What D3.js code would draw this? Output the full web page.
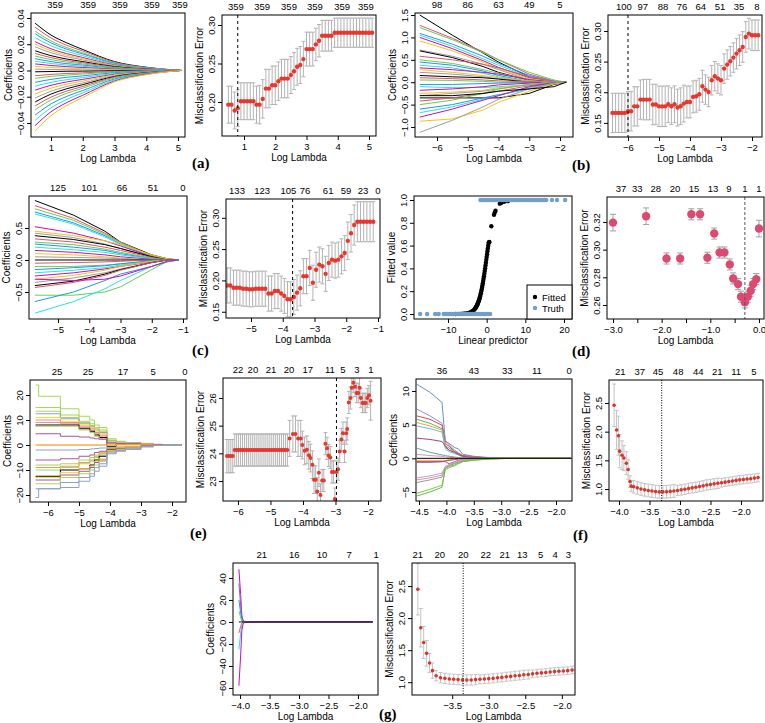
<!DOCTYPE html>
<html><head><meta charset="utf-8">
<script src="https://cdn.jsdelivr.net/npm/d3@7"></script>
<style>body{margin:0;background:#fff}</style>
</head><body><script>
// ---------------- DATA ----------------
// (a) coefficient paths
const coefA_lambda = [0.5,1,1.5,2,3,4,5.1];
const coefA_paths = [
[.036,.027,.021,.016,.0068,.0025,0],[.033,.0248,.0191,.0149,.0063,.0023,0],[.030,.0225,.0174,.0135,.0057,.0021,0],
[.028,.021,.0162,.0126,.0053,.002,0],[.025,.0188,.0145,.0113,.0048,.0018,0],[.022,.0165,.0128,.0099,.0042,.0015,0],
[.020,.015,.0116,.009,.0038,.0014,0],[.018,.0135,.0104,.0081,.0034,.0013,0],[.015,.0113,.0087,.0068,.0029,.0011,0],
[.013,.0098,.0075,.0059,.0025,.0009,0],[.011,.0083,.0064,.005,.0021,.0008,0],[.009,.0068,.0052,.0041,.0017,.0006,0],
[.007,.0053,.0041,.0032,.0013,.0005,0],[.005,.0038,.0029,.0023,.001,.0004,0],[.003,.0023,.0017,.0014,.0006,.0002,0],
[.001,.0008,.0006,.0005,.0002,.0001,0],[-.001,-.0008,-.0006,-.0005,-.0002,-.0001,0],[-.004,-.003,-.0023,-.0018,-.0008,-.0003,0],
[-.006,-.0045,-.0035,-.0027,-.0011,-.0004,0],[-.009,-.0068,-.0052,-.0041,-.0017,-.0006,0],[-.012,-.009,-.007,-.0054,-.0023,-.0008,0],
[-.015,-.0113,-.0087,-.0068,-.0029,-.0011,0],[-.018,-.0135,-.0104,-.0081,-.0034,-.0013,0],[-.021,-.0158,-.0122,-.0095,-.004,-.0015,0],
[-.024,-.018,-.0139,-.0108,-.0046,-.0017,0],[-.027,-.0203,-.0157,-.0122,-.0051,-.0019,0],[-.030,-.0225,-.0174,-.0135,-.0057,-.0021,0],
[-.034,-.0255,-.0197,-.0153,-.0065,-.0024,0],[-.038,-.0285,-.022,-.0171,-.0072,-.0027,0],[-.042,-.0315,-.0244,-.0189,-.008,-.0029,0],
[-.046,-.0345,-.0267,-.0207,-.0087,-.0032,0]];
const cvA_lambda = [0.5,0.6,0.7,0.8,0.9,1.0,1.1,1.2,1.3,1.4,1.5,1.6,1.7,1.8,1.9,2.0,2.1,2.2,2.3,2.4,2.5,2.6,2.7,2.8,2.9,3.0,3.1,3.2,3.3,3.4,3.5,3.6,3.7,3.8,3.9,4.0,4.1,4.2,4.3,4.4,4.5,4.6,4.7,4.8,4.9,5.0,5.1];
const cvA_err = [.1965,.1965,.189,.192,.201,.201,.201,.201,.201,.1965,.1965,.204,.2174,.2174,.2217,.2217,.227,.2304,.2304,.2304,.235,.24,.2457,.248,.2557,.2687,.2687,.2687,.2748,.2796,.2861,.2861,.2861,.2861,.29,.29,.29,.29,.29,.29,.29,.29,.29,.29,.29,.29,.29];
const cvA_sd = [.024,.024,.024,.024,.024,.024,.024,.024,.024,.024,.025,.025,.025,.025,.025,.025,.025,.025,.025,.025,.024,.024,.024,.024,.023,.022,.022,.022,.021,.021,.02,.02,.02,.02,.019,.019,.019,.019,.019,.019,.019,.019,.019,.019,.019,.019,.019];
const topA1_at = [1.13,2.17,3.17,4.18,5.06], topA1_lab = ["359","359","359","359","359"];
const topA2_at = [0.74,1.58,2.44,3.27,4.14,4.9], topA2_lab = ["359","359","359","359","359","359"];
const cvA_min = 0.8;

// (b)
const coefB_lambda = [-6.56,-5.5,-4.5,-4.0,-3.0,-2.2,-1.8];
const coefB_paths = [
[1.50,1.05,0.65,0.45,0.12,0.02,0],[1.27,0.98,0.68,0.50,0.18,0.03,0],[1.22,0.95,0.66,0.50,0.22,0.05,0],[1.09,0.85,0.58,0.42,0.15,0.02,0],
[1.05,0.80,0.52,0.38,0.12,0.02,0],[1.00,0.75,0.48,0.33,0.10,0.01,0],[0.92,0.70,0.45,0.30,0.08,0.01,0],[0.72,0.58,0.40,0.28,0.05,0,0],
[0.70,0.55,0.35,0.22,0.04,0,0],[0.58,0.50,0.40,0.32,0.12,0.02,0],[0.50,0.42,0.28,0.2,0.05,0,0],[0.45,0.38,0.25,0.15,0.02,0,0],
[0.38,0.32,0.2,0.12,0.03,0,0],[0.32,0.28,0.22,0.18,0.06,0,0],[0.28,0.22,0.15,0.1,0.03,0,0],[0.22,0.18,0.12,0.08,0.02,0,0],
[0.15,0.12,0.1,0.07,0.0,-0.02,0],[0.1,0.08,0.05,0.03,0.01,0,0],[0.05,0.04,0.02,0.0,0.0,0.0,0],[-0.05,-0.05,-0.03,-0.02,-0.01,0,0],
[-0.1,-0.12,-0.12,-0.1,-0.06,-0.02,0],[-0.18,-0.15,-0.1,-0.06,-0.02,0,0],[-0.25,-0.22,-0.18,-0.12,-0.05,0,0],[-0.3,-0.25,-0.2,-0.15,-0.05,0,0],
[-0.35,-0.35,-0.35,-0.35,-0.25,-0.05,0],[-0.42,-0.35,-0.25,-0.2,-0.08,-0.01,0],[-0.5,-0.4,-0.25,-0.15,-0.05,0,0],[-0.6,-0.5,-0.35,-0.28,-0.15,-0.03,0],
[-0.68,-0.55,-0.38,-0.3,-0.12,-0.02,0],[-0.78,-0.6,-0.4,-0.3,-0.1,-0.01,0],[-0.87,-0.82,-0.62,-0.45,-0.2,-0.04,0],[-1.12,-0.85,-0.55,-0.38,-0.15,-0.02,0],
[-0.3,-0.3,-0.25,-0.2,-0.15,-0.1,0]];
const cvB_lambda = [-6.5,-6.4,-6.3,-6.2,-6.1,-6.0,-5.9,-5.8,-5.7,-5.6,-5.5,-5.4,-5.3,-5.2,-5.1,-5.0,-4.9,-4.8,-4.7,-4.6,-4.5,-4.4,-4.3,-4.2,-4.1,-4.0,-3.9,-3.8,-3.7,-3.6,-3.5,-3.4,-3.3,-3.2,-3.1,-3.0,-2.9,-2.8,-2.7,-2.6,-2.5,-2.4,-2.3,-2.2,-2.1,-2.0,-1.9,-1.8];
const cvB_err = [.1663,.1663,.1663,.1663,.1663,.169,.169,.177,.177,.188,.188,.188,.188,.180,.180,.177,.177,.177,.1804,.1772,.1804,.175,.1772,.1815,.1842,.1842,.1924,.1935,.1967,.2098,.2043,.2005,.2196,.2261,.2223,.2196,.2386,.2451,.2505,.2565,.263,.2685,.2739,.2902,.2957,.2929,.2929,.2929];
const cvB_sd = [.032,.032,.032,.032,.032,.032,.032,.032,.032,.032,.033,.033,.033,.033,.033,.033,.033,.033,.03,.03,.03,.03,.03,.03,.026,.026,.026,.026,.026,.026,.024,.024,.024,.024,.024,.024,.024,.024,.024,.024,.025,.025,.025,.025,.025,.025,.025,.025];
const topB1_at = [-6,-5,-4,-3,-2], topB1_lab = ["98","86","63","49","5"];
const topB2_at = [-6.13,-5.52,-4.87,-4.26,-3.65,-3.03,-2.42,-1.84], topB2_lab = ["100","97","88","76","64","51","35","8"];
const cvB_min = -6.0;

// (c)
const coefC_lambda = [-5.74,-4.5,-3.5,-3.0,-2.0,-1.5,-1.15];
const coefC_paths = [
[0.93,0.70,0.45,0.28,0.08,0.02,0],[0.85,0.65,0.42,0.28,0.07,0.01,0],[0.80,0.62,0.40,0.27,0.06,0.01,0],[0.75,0.58,0.38,0.25,0.05,0.01,0],
[0.72,0.56,0.36,0.24,0.05,0.0,0],[0.52,0.42,0.30,0.22,0.05,0.0,0],[0.45,0.38,0.30,0.24,0.08,0.02,0],[0.42,0.35,0.25,0.18,0.04,0,0],
[0.38,0.32,0.24,0.18,0.05,0,0],[0.33,0.28,0.20,0.15,0.04,0,0],[0.28,0.24,0.17,0.12,0.03,0,0],[0.25,0.20,0.15,0.1,0.02,0,0],
[0.2,0.16,0.12,0.08,0.02,0,0],[0.15,0.12,0.08,0.05,0.01,0,0],[0.1,0.08,0.05,0.03,0,0,0],[0.05,0.04,0.03,0.02,0,0,0],
[0,0,0,0,0,0,0],[-0.05,-0.04,-0.03,-0.02,0,0,0],[-0.1,-0.1,-0.08,-0.06,-0.02,0,0],[-0.15,-0.12,-0.09,-0.06,-0.01,0,0],
[-0.2,-0.16,-0.12,-0.08,-0.02,0,0],[-0.25,-0.2,-0.14,-0.1,-0.03,0,0],[-0.3,-0.24,-0.16,-0.1,-0.02,0,0],[-0.35,-0.28,-0.2,-0.14,-0.04,0,0],
[-0.4,-0.33,-0.22,-0.15,-0.04,0,0],[-0.43,-0.35,-0.24,-0.16,-0.04,0,0],[-0.55,-0.55,-0.5,-0.42,-0.15,-0.02,0],[-0.65,-0.5,-0.32,-0.22,-0.1,-0.03,0],
[-0.83,-0.65,-0.45,-0.32,-0.1,-0.02,0],[-0.3,-0.32,-0.3,-0.25,-0.1,-0.02,0]];
const cvC_lambda = [-5.75,-5.65,-5.55,-5.45,-5.35,-5.25,-5.15,-5.05,-4.95,-4.85,-4.75,-4.65,-4.55,-4.45,-4.35,-4.25,-4.15,-4.05,-3.95,-3.85,-3.75,-3.65,-3.55,-3.45,-3.35,-3.25,-3.15,-3.05,-2.95,-2.85,-2.75,-2.65,-2.55,-2.45,-2.35,-2.25,-2.15,-2.05,-1.95,-1.85,-1.75,-1.65,-1.55,-1.45,-1.35,-1.25,-1.15];
const cvC_err = [.192,.192,.1884,.1884,.1884,.1868,.1868,.1858,.1858,.1868,.1868,.1868,.1868,.179,.179,.183,.183,.179,.1753,.170,.170,.1735,.1805,.1874,.2068,.2068,.22,.1963,.217,.2253,.2226,.2105,.2279,.2332,.2316,.2332,.2384,.2437,.2632,.2753,.2884,.2937,.2937,.2937,.2937,.2937,.2937];
const cvC_sd = [.028,.028,.028,.028,.028,.028,.028,.028,.028,.028,.028,.028,.028,.028,.028,.028,.028,.028,.028,.028,.028,.028,.028,.028,.028,.028,.028,.028,.028,.028,.028,.028,.028,.028,.028,.028,.028,.028,.03,.03,.032,.032,.032,.032,.032,.032,.032];
const topC1_at = [-5,-4,-2.95,-1.96,-1.0], topC1_lab = ["125","101","66","51","0"];
const topC2_at = [-5.44,-4.65,-3.82,-3.30,-2.57,-2.01,-1.47,-1.0], topC2_lab = ["133","123","105","76","61","59","23","0"];
const cvC_min = -3.69;

// (d) fitted vs linear predictor
const fit_x = [-8.0,-7.4,-6.8,-6.2,-5.6,-5.0,-4.6,-4.2,-3.9,-3.6,-3.3,-3.0,-2.9,-2.8,-2.7,-2.6,-2.5,-2.4,-2.3,-2.2,-2.1,-2.0,-1.9,-1.8,-1.7,-1.6,-1.5,-1.4,-1.3,-1.2,-1.1,-1.0,-0.9,-0.8,-0.7,-0.6,-0.5,-0.4,-0.3,-0.2,-0.1,0.0,0.1,0.2,0.3,0.4,0.5,0.6,0.7,1.2,1.9,2.1,2.3,3.4,3.8,4.5,5.5];
const fit_y = [.0003,.0006,.0011,.002,.0037,.0067,.01,.0148,.0198,.0266,.0356,.047,.052,.057,.063,.069,.076,.083,.091,.100,.109,.119,.130,.142,.154,.168,.182,.198,.214,.231,.250,.269,.289,.310,.332,.354,.378,.401,.426,.450,.475,.500,.525,.550,.574,.599,.622,.630,.632,.77,.87,.89,.905,.968,.975,.985,.99];
const truth0_x = [-17.2,-15.4,-13.3,-12.4,-11.1,-10.6,-10.1,-9.6,-9.1,-8.6,-8.1,-7.6,-7.1,-6.6,-6.1,-5.6,-5.1,-4.6,-4.1,-3.6,-3.1,-2.6,-2.1,-1.6,-1.1,-0.6,-0.1,0.4,0.9];
const truth1_x = [-1.6,-1.1,-0.6,-0.1,0.4,0.9,1.4,1.9,2.4,2.9,3.4,3.9,4.4,4.9,5.4,5.9,6.4,6.9,7.4,7.9,8.4,8.9,9.4,9.9,10.4,10.9,11.4,11.9,12.4,12.9,13.4,13.9,14.4,14.9,15.4,16.9,18.2,20.3];
const cvD_lambda = [-3.0,-2.32,-1.90,-1.62,-1.39,-1.21,-1.06,-0.92,-0.81,-0.71,-0.60,-0.53,-0.43,-0.37,-0.29,-0.23,-0.17,-0.12,-0.055,0.0];
const cvD_err = [.3195,.3241,.2936,.2936,.3255,.3255,.2941,.3116,.2979,.2979,.2893,.2792,.2751,.266,.2619,.266,.2703,.2751,.2787,.3152];
const cvD_sd = [.006,.006,.004,.004,.004,.004,.004,.004,.004,.004,.004,.004,.004,.004,.004,.004,.004,.004,.004,.006];
const topD2_at = [-2.835,-2.50,-2.12,-1.726,-1.336,-0.945,-0.616,-0.288,0.0], topD2_lab = ["37","33","28","20","15","13","9","1","1"];
const cvD_min = -0.29;

// (e)
const coefE_lambda = [-6.4,-6.3,-5.6,-5.0,-4.65,-4.5,-4.35,-4.1,-3.8,-3.5,-3.0,-2.6,-2.3,-2.0,-1.7];
const coefE_paths = [
[24,19.5,14.5,11.5,10,8,7,2.5,1.5,1,0.3,0.1,0,0,0],[15,15,12,9.5,8.5,7,6,2,1.2,0.8,0.2,0,0,0,0],
[13.5,13.5,11,9,7.8,6.5,5.5,1.8,1.3,1.0,0.4,0.1,0,0,0],[12.5,12.5,10.5,8.5,7.5,6,5,1.5,1,0.8,0.3,0.05,0,0,0],
[11,11,9.5,8,7,5.5,4.5,1.2,0.9,0.6,0.2,0,0,0,0],[10,10,9,7.5,6.5,5,4,1.0,0.8,0.6,0.3,0.1,0,0,0],
[9,9,8.5,7,6,4.5,3.5,0.8,0.6,0.5,0.2,0,0,0,0],[8,8,8,6.5,5.5,4,3,-0.5,0.3,0.6,0.2,0,0,0,0],
[7.5,7.5,7.5,6,5,3.5,2.5,0.5,0.4,0.3,0.1,0,0,0,0],[4.5,4.5,3.5,3.2,2.8,2.5,2.3,0.8,0.6,0.4,0.2,0,0,0,0],
[0,0,0,0,0,0,0,0,0,0,0,0,0,0,0],[0,0,0,0,0,0,0,0,0.2,0.4,0.6,0.3,0.1,0,0],
[-2,-2,-2,-1.8,-1.6,-1.4,-1.2,-1,-0.8,-0.6,-0.3,-0.1,0,0,0],[-6,-6,-5.5,-4.5,-4,-3,-2.5,-1.5,-1,-0.6,-0.2,0,0,0,0],
[-8,-8,-7.5,-6,-5,-4,-3,-1.2,-0.8,-0.5,-0.2,0,0,0,0],[-9,-9,-8.5,-7,-6,-4.5,-3.5,-1.5,-1.0,-0.6,-0.2,0,0,0,0],
[-10,-10,-9,-7.5,-6.5,-5,-4,-1.8,-1.2,-0.8,-0.3,-0.05,0,0,0],[-12.5,-12.5,-10,-9.5,-8,-6,-4.5,-2,-1.4,-1,-0.4,-0.1,0,0,0],
[-13,-13,-11,-9.5,-8.5,-6.5,-5.5,-2.2,-1.5,-1,-0.4,-0.1,0,0,0],[-14,-14,-12,-10.5,-9,-7,-6,-2.5,-1.6,-1.2,-0.5,-0.1,0,0,0],
[-15.5,-15.5,-13,-11.5,-10,-8,-6.5,-2.8,-2,-1.4,-0.6,-0.2,0,0,0],[-17.5,-17.5,-15,-13,-11.5,-9,-7.5,-3.2,-2.2,-1.5,-0.6,-0.2,0,0,0],
[-21,-17.5,-17,-14.5,-12.5,-10.5,-8.5,-3.5,-2.5,-1.8,-0.8,-0.2,0,0,0]];
const cvE_lambda = [-6.34,-6.28,-6.22,-6.16,-6.10,-6.04,-5.98,-5.92,-5.86,-5.80,-5.74,-5.68,-5.62,-5.56,-5.50,-5.44,-5.38,-5.32,-5.26,-5.20,-5.14,-5.08,-5.02,-4.96,-4.90,-4.84,-4.78,-4.72,-4.66,-4.60,-4.54,-4.48,
-4.41,-4.31,-4.23,-4.15,-4.07,-4.02,-3.95,-3.88,-3.82,-3.77,-3.71,-3.66,-3.61,-3.56,-3.51,-3.46,-3.41,-3.36,-3.31,-3.26,-3.21,-3.16,-3.11,-3.06,-3.02,-2.97,-2.92,-2.87,-2.82,-2.77,-2.72,-2.67,-2.64,-2.59,-2.54,-2.50,-2.45,-2.40,-2.35,-2.30,-2.26,-2.22,-2.17,-2.12,-2.07,-2.02,-1.97,-1.92];
const cvE_err = [23.9,23.9,23.9,23.9,24.12,24.12,24.12,24.12,24.12,24.12,24.12,24.12,24.12,24.12,24.12,24.12,24.12,24.12,24.12,24.12,24.12,24.12,24.12,24.12,24.12,24.12,24.12,24.12,24.12,24.12,24.12,24.12,
24.54,24.70,24.70,24.54,24.54,24.30,24.09,24.13,23.93,23.83,23.59,23.05,23.05,22.62,23.30,22.50,23.02,23.02,24.35,24.18,23.92,23.85,23.33,23.33,22.35,23.33,23.43,24.07,24.50,24.73,24.07,24.73,24.88,25.84,26.0,26.37,26.55,26.40,26.18,26.18,26.37,26.0,25.82,25.82,25.82,26.0,26.1,25.9];
const cvE_sd = [.6,.6,.6,.6,.58,.58,.58,.58,.58,.58,.58,.58,.58,.58,.58,.58,.58,.58,.58,.58,.58,.58,.58,.58,.58,.58,.58,.58,.58,.58,.58,.58,
.65,.65,.65,.65,.65,.5,.5,.5,.5,.5,.5,.5,.5,.5,.5,.4,.4,.4,.4,.4,.4,.4,.4,.4,.4,.4,.4,.4,.4,.4,.4,.4,.4,.4,.4,.35,.35,.35,.35,.35,.35,.35,.35,.35,.35,.35,.35,.7];
const topE1_at = [-5.71,-4.71,-3.58,-2.61,-1.58], topE1_lab = ["25","25","17","5","0"];
const topE2_at = [-6.0,-5.54,-4.98,-4.43,-3.85,-3.17,-2.77,-2.34,-1.91], topE2_lab = ["22","20","21","20","17","11","5","3","1"];
const cvE_min = -2.97;

// (f)
const coefF_lambda = [-4.54,-4.3,-4.08,-4.02,-3.95,-3.85,-3.78,-3.7,-3.5,-3.2,-2.8,-2.0,-1.72];
const coefF_paths = [
[11.0,9.8,8.3,2.5,2.2,1.6,1.4,0.6,0.3,0.1,0,0,0],[7.3,6.3,5.2,2.7,2.0,1.2,0.8,0.4,0.2,0.05,0,0,0],
[6.3,5.8,4.9,2.2,1.8,1.0,0.7,0.4,0.2,0.05,0,0,0],[5.8,5.2,4.4,1.9,1.5,1.0,0.6,0.3,0.15,0.05,0,0,0],
[5.3,4.8,4.2,1.6,1.2,0.8,0.5,0.3,0.1,0,0,0,0],[4.8,4.4,3.9,1.4,1.0,0.7,0.5,0.2,0.1,0,0,0,0],
[3.0,2.8,2.5,1.8,1.2,0.9,0.6,0.3,0.1,0,0,0,0],[1.5,0.9,0.5,0.4,0.3,0.2,0.1,0.05,0,0,0,0,0],
[0.6,0.4,0.3,0.2,0.15,0.1,0.05,0,0,0,0,0,0],[-0.3,-0.3,-0.3,-0.3,-0.2,-0.1,-0.05,0,0,0,0,0,0],
[-0.5,-0.5,-0.5,-0.4,-0.3,-0.2,-0.1,-0.05,0,0,0,0,0],[-0.6,-0.6,-0.5,-0.5,-0.8,-0.5,-0.3,-0.2,-0.1,-0.05,0,0,0],
[-2.9,-2.6,-2.2,-1.2,-0.9,-0.6,-0.4,-0.2,-0.1,0,0,0,0],[-3.2,-2.9,-2.5,-1.3,-1.0,-0.7,-0.5,-0.3,-0.15,-0.05,0,0,0],
[-3.6,-3.2,-2.8,-1.5,-1.1,-0.8,-0.6,-0.4,-0.2,-0.05,0,0,0],[-5.2,-4.6,-4.0,-1.7,-1.4,-1.1,-0.8,-0.5,-0.3,-0.1,0,0,0],
[-5.6,-5.0,-4.3,-1.5,-1.2,-1.0,-0.7,-0.45,-0.25,-0.1,0,0,0],[0,0,0,0,0,0,0,0,0,0,0,0,0]];
const cvF_lambda = [-4.08,-4.04,-4.01,-3.99,-3.95,-3.92,-3.88,-3.85,-3.82,-3.80,-3.76,-3.70,-3.64,-3.58,-3.52,-3.46,-3.40,-3.34,-3.28,-3.22,-3.16,-3.10,-3.04,-2.98,-2.92,-2.86,-2.80,-2.74,-2.68,-2.62,-2.56,-2.50,-2.44,-2.38,-2.32,-2.26,-2.20,-2.14,-2.08,-2.02,-1.96,-1.90,-1.84,-1.78,-1.72];
const cvF_err = [2.46,2.03,1.93,1.66,1.59,1.54,1.45,1.34,1.13,1.05,1.04,1.02,1.00,0.985,0.975,0.965,0.955,0.95,0.95,0.952,0.958,0.965,0.975,0.985,0.995,1.01,1.02,1.03,1.045,1.055,1.07,1.08,1.09,1.10,1.11,1.12,1.13,1.14,1.15,1.16,1.165,1.175,1.18,1.19,1.20];
const cvF_sd = [.37,.34,.34,.29,.25,.22,.2,.17,.1,.09,.11,.11,.11,.11,.11,.11,.11,.11,.11,.11,.11,.11,.09,.09,.09,.09,.09,.09,.09,.09,.09,.09,.09,.09,.075,.075,.075,.075,.075,.075,.075,.075,.075,.075,.075];
const topF1_at = [-4.08,-3.5,-2.89,-2.35,-1.76], topF1_lab = ["36","43","33","11","0"];
const topF2_at = [-3.98,-3.66,-3.36,-3.03,-2.70,-2.39,-2.08,-1.79], topF2_lab = ["21","37","45","48","44","21","11","5"];
const cvF_min = -3.3;

// (g)
const coefG_lambda = [-4.02,-3.99,-3.97,-3.95,-3.92,-3.85,-3.6,-2.0,-1.75];
const coefG_paths = [
[48,25,6,1.5,0.5,0.2,0,0,0],[35,15,4,1,0.3,0.1,0,0,0],[20,8,2,0.5,0.2,0,0,0,0],[10,4,1,0.3,0.1,0,0,0,0],
[-10,-4,-1,-0.3,-0.1,0,0,0,0],[-25,-10,-3,-1,-0.3,-0.1,0,0,0],[-58,-30,-8,-2,-0.5,-0.2,0,0,0],[0,0,0,0,0,0,0,0,0]];
const cvG_lambda = [-3.97,-3.93,-3.89,-3.85,-3.81,-3.77,-3.72,-3.66,-3.60,-3.54,-3.48,-3.42,-3.36,-3.30,-3.24,-3.18,-3.12,-3.06,-3.00,-2.94,-2.88,-2.82,-2.76,-2.70,-2.64,-2.58,-2.52,-2.46,-2.40,-2.34,-2.28,-2.22,-2.16,-2.10,-2.04,-1.98,-1.92,-1.86,-1.80,-1.74];
const cvG_err = [2.45,1.85,1.62,1.45,1.3,1.18,1.1,1.07,1.06,1.05,1.045,1.04,1.035,1.035,1.035,1.04,1.045,1.05,1.055,1.06,1.07,1.075,1.085,1.09,1.10,1.105,1.115,1.12,1.13,1.14,1.145,1.15,1.16,1.165,1.17,1.175,1.18,1.19,1.195,1.2];
const cvG_sd = [.4,.3,.25,.2,.15,.12,.08,.08,.08,.08,.08,.08,.08,.08,.08,.08,.07,.07,.07,.07,.07,.07,.07,.07,.07,.07,.07,.07,.06,.06,.06,.06,.06,.06,.06,.06,.06,.06,.06,.06];
const topG1_at = [-3.63,-3.08,-2.61,-2.15,-1.69], topG1_lab = ["21","16","10","7","1"];
const topG2_at = [-3.97,-3.67,-3.35,-3.04,-2.78,-2.54,-2.29,-2.09,-1.91], topG2_lab = ["21","20","20","22","21","13","5","4","3"];
const cvG_min = -3.35;

// ---------------- RENDER ----------------
const FONT = '"Liberation Sans", Arial, Helvetica, sans-serif';
const svg = d3.select('body').append('svg').attr('width',765).attr('height',723).style('display','block');
svg.append('rect').attr('width',765).attr('height',723).attr('fill','#fff');
const defs = svg.append('defs');
const R4 = ["#000000","#DF536B","#61D04F","#2297E6","#28E2E5","#CD0BBC","#F5C710","#9E9E9E"];

function panel(c){
  const [bx0,bx1,by0,by1] = c.box;
  const x = d3.scaleLinear().domain(c.xd).range([bx0,bx1]);
  const y = d3.scaleLinear().domain(c.yd).range([by1,by0]);
  const id = 'clip'+c.id;
  defs.append('clipPath').attr('id',id).append('rect').attr('x',bx0).attr('y',by0).attr('width',bx1-bx0).attr('height',by1-by0);
  const plot = svg.append('g').attr('clip-path',`url(#${id})`);
  const xf = c.xf || d3.format('d');
  const xa = d3.axisBottom(x).tickValues(c.xt).tickSize(4).tickFormat(d => (c.xshow && !c.xshow(d)) ? '' : xf(d));
  const gx = svg.append('g').attr('transform',`translate(0,${by1})`).call(xa);
  gx.select('.domain').remove();
  gx.attr('font-family',FONT).attr('font-size',9.5);
  gx.selectAll('text').attr('y',14).attr('dy',null);
  const ya = d3.axisLeft(y).tickValues(c.yt).tickSize(4).tickFormat(c.yf || d3.format('d'));
  const gy = svg.append('g').attr('transform',`translate(${bx0},0)`).call(ya);
  gy.select('.domain').remove();
  gy.attr('font-family',FONT).attr('font-size',9.5);
  gy.selectAll('text').attr('transform','rotate(-90)').attr('x',0).attr('y',-7).attr('dy',null).attr('text-anchor','middle');
  svg.append('rect').attr('x',bx0).attr('y',by0).attr('width',bx1-bx0).attr('height',by1-by0).attr('fill','none').attr('stroke','#000').attr('stroke-width',1);
  svg.append('text').attr('x',(bx0+bx1)/2).attr('y',by1+25).attr('text-anchor','middle').attr('font-family',FONT).attr('font-size',10).text(c.xl || 'Log Lambda');
  svg.append('text').attr('transform',`translate(${bx0-19},${(by0+by1)/2}) rotate(-90)`).attr('text-anchor','middle').attr('font-family',FONT).attr('font-size',10).text(c.yl);
  if (c.top) {
    svg.append('g').selectAll('text').data(c.top[0]).join('text')
      .attr('x',d=>x(d)).attr('y',by0-5).attr('text-anchor','middle').attr('font-family',FONT).attr('font-size',9.5)
      .text((d,i)=>c.top[1][i]);
  }
  return {x,y,plot,box:c.box};
}
function paths(P, lam, data, colors, curve, sw){
  const line = d3.line().x((d,i)=>P.x(lam[i])).y(d=>P.y(d)).curve(curve || d3.curveLinear);
  P.plot.append('g').selectAll('path').data(data).join('path').attr('d',line).attr('fill','none')
    .attr('stroke',(d,i)=>colors[i%colors.length]).attr('stroke-width',sw||1);
}
function cv(P, lam, err, sd, o){
  const g = P.plot.append('g');
  const idx = d3.range(lam.length);
  const bc = o.barColor || '#b3b3b3', cw = o.cap || 2;
  g.selectAll('.v').data(idx).join('line').attr('x1',i=>P.x(lam[i])).attr('x2',i=>P.x(lam[i]))
    .attr('y1',i=>P.y(err[i]-sd[i])).attr('y2',i=>P.y(err[i]+sd[i])).attr('stroke',bc).attr('stroke-width',1);
  g.selectAll('.hi').data(idx).join('line').attr('x1',i=>P.x(lam[i])-cw).attr('x2',i=>P.x(lam[i])+cw)
    .attr('y1',i=>P.y(err[i]+sd[i])).attr('y2',i=>P.y(err[i]+sd[i])).attr('stroke',bc).attr('stroke-width',1);
  g.selectAll('.lo').data(idx).join('line').attr('x1',i=>P.x(lam[i])-cw).attr('x2',i=>P.x(lam[i])+cw)
    .attr('y1',i=>P.y(err[i]-sd[i])).attr('y2',i=>P.y(err[i]-sd[i])).attr('stroke',bc).attr('stroke-width',1);
  g.selectAll('circle').data(idx).join('circle').attr('cx',i=>P.x(lam[i])).attr('cy',i=>P.y(err[i]))
    .attr('r',o.r||2.2).attr('fill',o.color||'#e5392f');
  if (o.vline !== undefined) {
    P.plot.append('line').attr('x1',P.x(o.vline)).attr('x2',P.x(o.vline)).attr('y1',P.box[2]).attr('y2',P.box[3])
      .attr('stroke',o.vcolor||'#000').attr('stroke-width',1).attr('stroke-dasharray',o.dash||'3,3');
  }
}
function tag(t,x,y){
  svg.append('text').attr('x',x).attr('y',y).attr('font-family','"Liberation Serif", "Times New Roman", serif')
    .attr('font-weight','bold').attr('font-size',15).text(t);
}
const f2 = d3.format('.2f'), f1 = d3.format('.1f');

// (a)
const A1 = panel({id:'a1',box:[31,185,13,137],xd:[0.37,5.22],yd:[-0.0507,0.0438],xt:[1,2,3,4,5],yt:[-0.04,-0.02,0,0.02,0.04],yf:f2,yl:'Coefficients',top:[topA1_at,topA1_lab]});
paths(A1, coefA_lambda, coefA_paths, R4, d3.curveMonotoneX);
const A2 = panel({id:'a2',box:[222,376,15,136],xd:[0.296,5.224],yd:[0.1558,0.313],xt:[1,2,3,4,5],yt:[0.20,0.25,0.30],yf:f2,yl:'Misclassification Error',top:[topA2_at,topA2_lab]});
cv(A2, cvA_lambda, cvA_err, cvA_sd, {vline:cvA_min});
tag('(a)',192,168);

// (b)
const B1 = panel({id:'b1',box:[415,573,13,137],xd:[-6.715,-1.577],yd:[-1.223,1.545],xt:[-6,-5,-4,-3,-2],yt:[-1,-0.5,0,0.5,1,1.5],yf:f1,yl:'Coefficients',top:[topB1_at,topB1_lab]});
paths(B1, coefB_lambda, coefB_paths, R4);
const B2 = panel({id:'b2',box:[608,762,15,137],xd:[-6.645,-1.677],yd:[0.127,0.326],xt:[-6,-5,-4,-3,-2],yt:[0.15,0.20,0.25,0.30],yf:f2,yl:'Misclassification Error',top:[topB2_at,topB2_lab]});
cv(B2, cvB_lambda, cvB_err, cvB_sd, {vline:cvB_min});
tag('(b)',572,170);

// (c)
const C1 = panel({id:'c1',box:[29,187,196,319],xd:[-5.928,-0.872],yd:[-0.922,1.0],xt:[-5,-4,-3,-2,-1],yt:[-0.5,0,0.5],yf:f1,yl:'Coefficients',top:[topC1_at,topC1_lab]});
paths(C1, coefC_lambda, coefC_paths, R4);
const C2 = panel({id:'c2',box:[226,380,199,318],xd:[-5.787,-0.937],yd:[0.140,0.330],xt:[-5,-4,-3,-2,-1],yt:[0.15,0.20,0.25,0.30],yf:f2,yl:'Misclassification Error',top:[topC2_at,topC2_lab]});
cv(C2, cvC_lambda, cvC_err, cvC_sd, {vline:cvC_min});
tag('(c)',192,355);

// (d)
const D1 = panel({id:'d1',box:[414,572,196,319],xd:[-18.79,22.07],yd:[-0.044,1.035],xt:[-10,0,10,20],yt:[0,0.2,0.4,0.6,0.8,1.0],yf:f1,xl:'Linear predictor',yl:'Fitted value'});
D1.plot.append('g').selectAll('circle').data(fit_x).join('circle').attr('cx',d=>D1.x(d)).attr('cy',(d,i)=>D1.y(fit_y[i])).attr('r',2.2).attr('fill','#000');
D1.plot.append('g').selectAll('circle').data(truth0_x).join('circle').attr('cx',d=>D1.x(d)).attr('cy',D1.y(0)).attr('r',2.2).attr('fill','#6f9fcb');
D1.plot.append('g').selectAll('circle').data(truth1_x).join('circle').attr('cx',d=>D1.x(d)).attr('cy',D1.y(1)).attr('r',2.2).attr('fill','#6f9fcb');
{
  const lg = svg.append('g');
  lg.append('rect').attr('x',527).attr('y',285).attr('width',45).attr('height',34).attr('fill','#fff').attr('stroke','#000');
  lg.append('circle').attr('cx',535).attr('cy',297).attr('r',2.2).attr('fill','#000');
  lg.append('circle').attr('cx',535).attr('cy',308).attr('r',2.2).attr('fill','#6f9fcb');
  lg.append('text').attr('x',542).attr('y',300.5).attr('font-family',FONT).attr('font-size',9.5).text('Fitted');
  lg.append('text').attr('x',542).attr('y',311.5).attr('font-family',FONT).attr('font-size',9.5).text('Truth');
}
const D2 = panel({id:'d2',box:[607,764,197,319],xd:[-3.123,0.103],yd:[0.2499,0.338],xt:[-3,-2.5,-2,-1.5,-1,-0.5,0],xshow:d=>Number.isInteger(d),xf:f1,yt:[0.26,0.28,0.30,0.32],yf:f2,yl:'Misclassification Error',top:[topD2_at,topD2_lab]});
cv(D2, cvD_lambda, cvD_err, cvD_sd, {vline:cvD_min, r:4.2, color:'#dc4a72', barColor:'#a0a0a0', cap:3, vcolor:'#555', dash:'3,2'});
tag('(d)',572,356);

// (e)
const colE = ["#A6D854","#A6D854","#A6D854","#8DA0CB","#FFD92F","#FC8D62","#E78AC3","#000000","#A6D854","#B04FA8","#FFD92F","#FC8D62","#8DA0CB","#B04FA8","#A6D854","#FC8D62","#A6D854","#000000","#FFD92F","#B04FA8","#A6D854","#8DA0CB","#8DA0CB"];
const E1 = panel({id:'e1',box:[30,186,380,502],xd:[-6.58,-1.548],yd:[-22.8,26],xt:[-6,-5,-4,-3,-2],yt:[-20,-10,0,10,20],yl:'Coefficients',top:[topE1_at,topE1_lab]});
paths(E1, coefE_lambda, coefE_paths, colE, d3.curveStepAfter);
const E2 = panel({id:'e2',box:[223,381,378,501],xd:[-6.46,-1.6],yd:[22.28,26.72],xt:[-6,-5,-4,-3,-2],yt:[23,24,25,26],yl:'Misclassification Error',top:[topE2_at,topE2_lab]});
cv(E2, cvE_lambda, cvE_err, cvE_sd, {vline:cvE_min, r:2});
tag('(e)',190,538);

// (f)
const colF = ["#6c8ebf","#a587c9","#e0464e","#5cb85c","#f0a04b","#58c4dc","#b0407f","#5aa9a0","#e58fb3","#f4a460","#a65628","#8a5fb0","#b9a2d8","#e98bb0","#999999","#7ccd4f","#6abf3f","#000000"];
const F1 = panel({id:'f1',box:[416,572,379,501],xd:[-4.555,-1.708],yd:[-6.34,11.78],xt:[-4.5,-4,-3.5,-3,-2.5,-2],xf:f1,yt:[-5,0,5,10],yl:'Coefficients',top:[topF1_at,topF1_lab]});
paths(F1, coefF_lambda, coefF_paths, colF);
const F2 = panel({id:'f2',box:[609,763,380,501],xd:[-4.164,-1.639],yd:[0.791,2.901],xt:[-4,-3.5,-3,-2.5,-2],xf:f1,yt:[1,1.5,2,2.5],yf:f1,yl:'Misclassification Error',top:[topF2_at,topF2_lab]});
cv(F2, cvF_lambda, cvF_err, cvF_sd, {vline:cvF_min, r:1.8, color:'#d8352a', barColor:'#c4c4c4', dash:'1,1.5'});
tag('(f)',573,540);

// (g)
const colG = ["#CD0BBC","#9b59b6","#2297E6","#61D04F","#DF536B","#28E2E5","#CD0BBC","#000000"];
const G1 = panel({id:'g1',box:[233,378,563,695],xd:[-4.12,-1.66],yd:[-66.4,53.6],xt:[-4,-3.5,-3,-2.5,-2],xf:f1,yt:[-60,-40,-20,0,20,40],yl:'Coefficients',top:[topG1_at,topG1_lab]});
paths(G1, coefG_lambda, coefG_paths, colG);
const G2 = panel({id:'g2',box:[412,575,563,695],xd:[-4.05,-1.82],yd:[0.80,2.86],xt:[-3.5,-3,-2.5,-2],xf:f1,yt:[1,1.5,2,2.5],yf:f1,yl:'Misclassification Error',top:[topG2_at,topG2_lab]});
cv(G2, cvG_lambda, cvG_err, cvG_sd, {vline:cvG_min, r:1.8, color:'#d8352a', barColor:'#c4c4c4', dash:'1,1.5'});
tag('(g)',379,719);
</script></body></html>
